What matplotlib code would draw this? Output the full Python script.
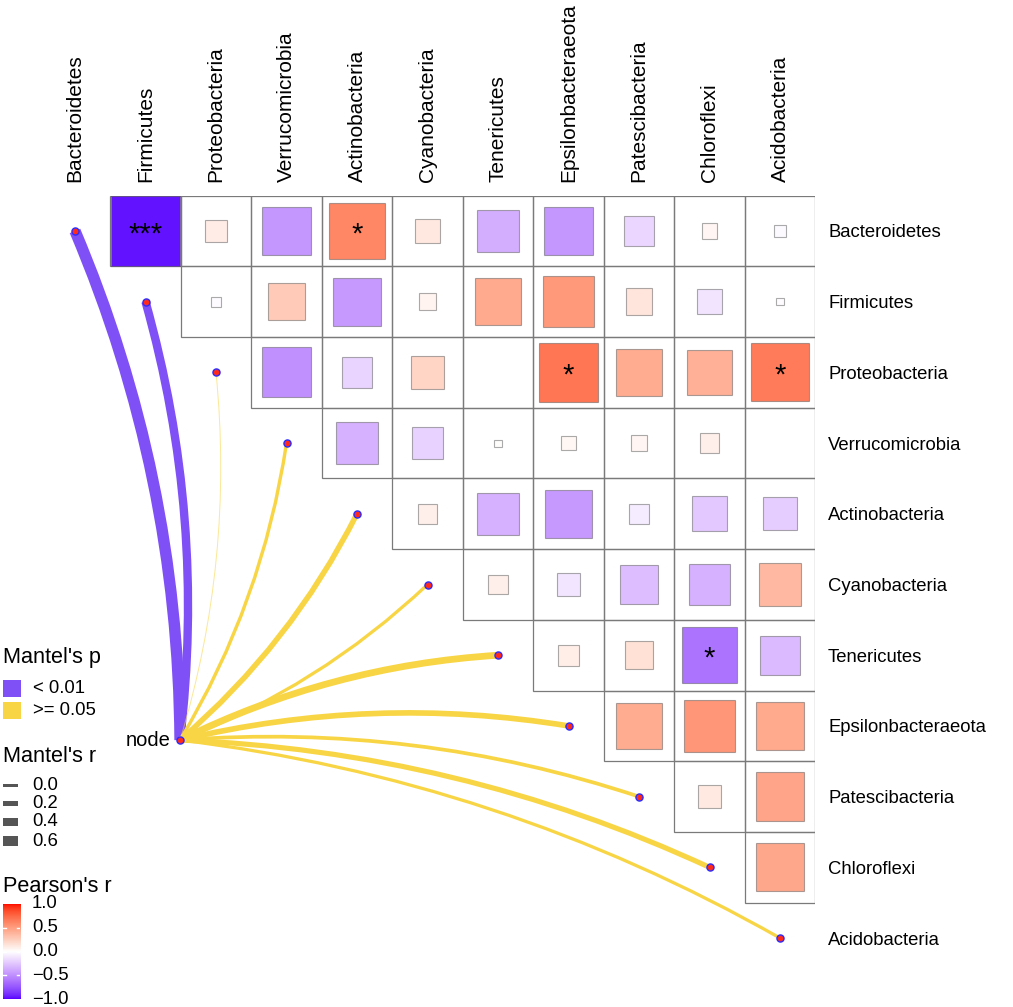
import numpy as np
import matplotlib
matplotlib.use("Agg")
import matplotlib.pyplot as plt
from matplotlib.path import Path
from matplotlib.patches import PathPatch, Rectangle
from matplotlib.colors import ListedColormap, Normalize

plt.rcParams["font.family"] = ["Liberation Sans", "DejaVu Sans"]

# ---------------- data ----------------
taxa = ["Bacteroidetes", "Firmicutes", "Proteobacteria", "Verrucomicrobia",
        "Actinobacteria", "Cyanobacteria", "Tenericutes", "Epsilonbacteraeota",
        "Patescibacteria", "Chloroflexi", "Acidobacteria"]

# Pearson's r, upper triangle: row i holds columns i+1 .. 10
pearson_rows = [
    [-0.97, 0.10, -0.47, 0.61, 0.12, -0.36, -0.47, -0.18, 0.05, -0.03],
    [-0.02, 0.28, -0.46, 0.06, 0.44, 0.53, 0.14, -0.12, -0.01],
    [-0.50, -0.19, 0.22, 0.00, 0.69, 0.43, 0.41, 0.67],
    [-0.35, -0.20, 0.01, 0.04, 0.05, 0.08, 0.00],
    [0.08, -0.35, -0.46, -0.08, -0.25, -0.22],
    [0.08, -0.11, -0.29, -0.35, 0.36],
    [0.09, 0.16, -0.63, -0.31],
    [0.43, 0.54, 0.45],
    [0.11, 0.47],
    [0.46],
    [],
]
sig_row = [0, 0, 2, 2, 6]
sig_col = [1, 4, 7, 10, 9]
sig_lab = ["***", "*", "*", "*", "*"]

# Mantel test: node -> each taxon
mantel_r = [0.65, 0.46, 0.00, 0.15, 0.28, 0.14, 0.36, 0.29, 0.17, 0.26, 0.14]
mantel_p = ["< 0.01", "< 0.01", ">= 0.05", ">= 0.05", ">= 0.05", ">= 0.05",
            ">= 0.05", ">= 0.05", ">= 0.05", ">= 0.05", ">= 0.05"]
p_levels = ["< 0.01", ">= 0.05"]
p_colors = {"< 0.01": "#7F50F5", ">= 0.05": "#F8D545"}
r_breaks = [0.0, 0.2, 0.4, 0.6]
cbar_ticks = [1.0, 0.5, 0.0, -0.5, -1.0]
cbar_labels = ["1.0", "0.5", "0.0", "\u22120.5", "\u22121.0"]

# ---------------- colour scale (Lab interpolation, like ggplot gradient2) ----
def srgb_to_lab(rgb):
    rgb = np.asarray(rgb, float)
    c = np.where(rgb <= 0.04045, rgb / 12.92, ((rgb + 0.055) / 1.055) ** 2.4)
    M = np.array([[0.4124, 0.3576, 0.1805], [0.2126, 0.7152, 0.0722],
                  [0.0193, 0.1192, 0.9505]])
    xyz = M @ c / np.array([0.95047, 1.0, 1.08883])
    f = np.where(xyz > 0.008856, np.cbrt(xyz), 7.787 * xyz + 16 / 116)
    return np.array([116 * f[1] - 16, 500 * (f[0] - f[1]), 200 * (f[1] - f[2])])

def lab_to_srgb(lab):
    L, a, b = lab
    fy_ = (L + 16) / 116
    fx_ = fy_ + a / 500
    fz_ = fy_ - b / 200
    f = np.array([fx_, fy_, fz_])
    xyz = np.where(f ** 3 > 0.008856, f ** 3, (f - 16 / 116) / 7.787)
    xyz = xyz * np.array([0.95047, 1.0, 1.08883])
    Minv = np.array([[3.2406, -1.5372, -0.4986], [-0.9689, 1.8758, 0.0415],
                     [0.0557, -0.2040, 1.0570]])
    c = np.clip(Minv @ xyz, 0, 1)
    rgb = np.where(c <= 0.0031308, 12.92 * c, 1.055 * c ** (1 / 2.4) - 0.055)
    return np.clip(rgb, 0, 1)

lab_low = srgb_to_lab([0.36, 0.0, 1.0])
lab_mid = srgb_to_lab([1, 1, 1])
lab_high = srgb_to_lab([1, 0.05, 0.0])
vals = np.linspace(-1, 1, 256)
cols = []
for v in vals:
    if v < 0:
        lab = lab_mid + (-v) * (lab_low - lab_mid)
    else:
        lab = lab_mid + v * (lab_high - lab_mid)
    cols.append(lab_to_srgb(lab))
cmap = ListedColormap(cols)
norm = Normalize(-1, 1)

# ---------------- figure ----------------
W, H = 1013, 1007
fig = plt.figure(figsize=(W / 100, H / 100), dpi=100)

def fx(x):
    return x / W

def fy(y):
    return 1 - y / H

left_px, right_px = 39.75, 815.25
top_px, bot_px = 195.6, 973.4
ax = fig.add_axes([fx(left_px), fy(bot_px), fx(right_px) - fx(left_px),
                   fy(top_px) - fy(bot_px)])
n = len(taxa)
ax.set_xlim(-0.5, n - 0.5)
ax.set_ylim(n - 0.5, -0.5)
for s in ax.spines.values():
    s.set_visible(False)

ax.set_xticks(range(n))
ax.set_xticklabels(taxa, rotation=90, fontsize=15)
ax.xaxis.tick_top()
ax.set_yticks(range(n))
ax.set_yticklabels(taxa, fontsize=13.3)
ax.yaxis.tick_right()
ax.tick_params(axis="x", length=0, pad=9.5, colors="black")
ax.tick_params(axis="y", length=0, pad=9.2, colors="black")

# grid cells and squares
for i, row in enumerate(pearson_rows):
    for k, r in enumerate(row):
        j = i + 1 + k
        ax.add_patch(Rectangle((j - 0.5, i - 0.5), 1, 1, fill=False,
                               ec="#7a7a7a", lw=0.9, zorder=1))
        side = np.sqrt(abs(r))
        if side > 0:
            ax.add_patch(Rectangle((j - side / 2, i - side / 2), side, side,
                                   fc=cmap(norm(r)), ec=(0.35, 0.35, 0.35, 0.5),
                                   lw=0.8, zorder=2))
for i, j, lab in zip(sig_row, sig_col, sig_lab):
    ax.text(j, i + 0.05, lab, ha="center", va="center", fontsize=21,
            color="black", zorder=4)

# Mantel links
node_x, node_y = 1.49, 7.2
for k, (r, p) in enumerate(zip(mantel_r, mantel_p)):
    x0, y0 = node_x, node_y
    x1, y1 = k, k
    dx, dy = x1 - x0, y1 - y0
    sgn = -1 if k <= 5 else 1
    cx = (x0 + x1) / 2 + sgn * 0.1 * dy
    cy = (y0 + y1) / 2 - sgn * 0.1 * dx
    path = Path([(x0, y0), (cx, cy), (x1, y1)],
                [Path.MOVETO, Path.CURVE3, Path.CURVE3])
    lw_px = 1.0 + 16 * r
    alpha = 1.0 if r > 0.03 else 0.55
    ax.add_patch(PathPatch(path, fill=False, ec=p_colors[p], lw=lw_px / 1.389,
                           capstyle="butt", alpha=alpha, zorder=3, clip_on=False))

diag = np.arange(n)
ax.scatter(diag, diag, s=26, c="#FF2A1A", edgecolors="#2B2BFF", linewidths=1.0,
           zorder=5, clip_on=False)
ax.scatter([node_x], [node_y], s=26, c="#FF2A1A", edgecolors="#2B2BFF",
           linewidths=1.0, zorder=5, clip_on=False)
ax.text(node_x - 0.14, node_y, "node", ha="right", va="center", fontsize=14.5)

# ---------------- legends ----------------
title_fs = 15.6
lab_fs = 13.3
fig.text(fx(3), fy(658), "Mantel's p", fontsize=title_fs, va="center", ha="left")
for yc, lev in zip([688.5, 710.5], p_levels):
    fig.patches.append(Rectangle((fx(3), fy(yc + 8.5)), fx(18), 17 / H,
                                 transform=fig.transFigure, fc=p_colors[lev],
                                 ec="none"))
    fig.text(fx(33), fy(yc), lev, fontsize=lab_fs, va="center", ha="left")

fig.text(fx(3), fy(757), "Mantel's r", fontsize=title_fs, va="center", ha="left")
for yc, rb in zip([785.5, 803.5, 822, 841], r_breaks):
    hk = 3.3 + 10 * rb
    fig.patches.append(Rectangle((fx(3), fy(yc + hk / 2)), fx(15), hk / H,
                                 transform=fig.transFigure, fc="#555555",
                                 ec="none"))
    fig.text(fx(32), fy(yc), f"{rb:.1f}", fontsize=lab_fs, va="center", ha="left")

fig.text(fx(3), fy(886), "Pearson's r", fontsize=title_fs, va="center", ha="left")
cb_top, cb_bot = 904, 999
cax = fig.add_axes([fx(3), fy(cb_bot), fx(17), (cb_bot - cb_top) / H])
grad = np.linspace(-1, 1, 300).reshape(-1, 1)
cax.imshow(grad, aspect="auto", cmap=cmap, norm=norm, origin="lower",
           extent=[0, 1, -1, 1])
cax.set_xlim(0, 1)
cax.set_ylim(-1, 1)
cax.axis("off")
for v in [0.5, 0.0, -0.5]:
    cax.plot([0, 0.2], [v, v], color="white", lw=1)
    cax.plot([0.8, 1], [v, v], color="white", lw=1)
for v, lab in zip(cbar_ticks, cbar_labels):
    ypx = cb_bot - (v + 1) / 2 * (cb_bot - cb_top)
    fig.text(fx(32), fy(ypx), lab, fontsize=lab_fs, va="center", ha="left")

fig.savefig("out.png", dpi=100, facecolor="white")
